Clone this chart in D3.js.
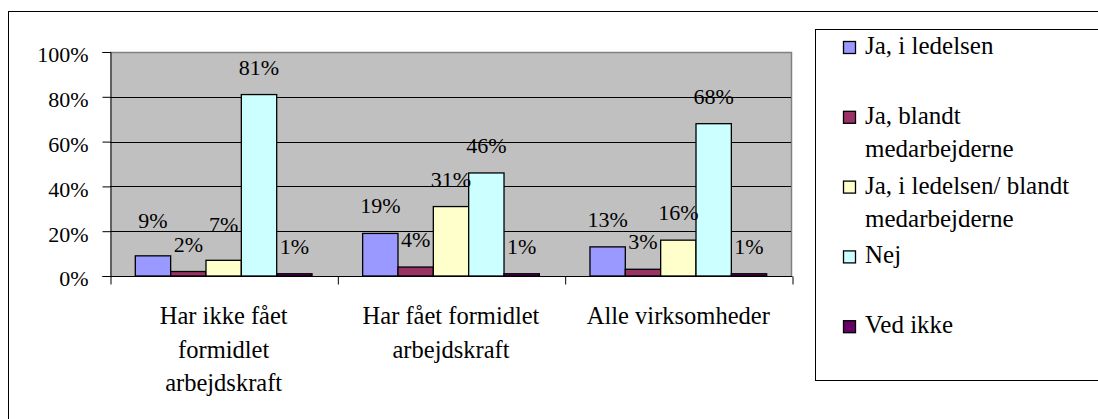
<!DOCTYPE html>
<html>
<head>
<meta charset="utf-8">
<script src="https://cdn.jsdelivr.net/npm/d3@7/dist/d3.min.js"></script>
</head>
<body style="margin:0">
<svg id="chart" width="1098" height="419" style="display:block"></svg>
<script>
// ---- data ----
const categories = [
  ["Har ikke fået", "formidlet", "arbejdskraft"],
  ["Har fået formidlet", "arbejdskraft"],
  ["Alle virksomheder"]
];
const seriesNames = [
  ["Ja, i ledelsen"],
  ["Ja, blandt", "medarbejderne"],
  ["Ja, i ledelsen/ blandt", "medarbejderne"],
  ["Nej"],
  ["Ved ikke"]
];
const jaILedelsen = [0.09, 0.19, 0.13];
const jaBlandt = [0.02, 0.04, 0.03];
const jaBegge = [0.07, 0.31, 0.16];
const nej = [0.81, 0.46, 0.68];
const vedIkke = [0.01, 0.01, 0.01];
const yTicks = [0, 0.2, 0.4, 0.6, 0.8, 1.0];

const seriesValues = [jaILedelsen, jaBlandt, jaBegge, nej, vedIkke];
const colors = ["#9999FF", "#993366", "#FFFFCC", "#CCFFFF", "#660066"];

const FONT = '"Liberation Serif"';

// ---- layout ----
const svg = d3.select("#chart");
const plot = { left: 110, right: 792, top: 52, bottom: 276 };

// outer frame
svg.append("rect")
  .attr("x", 8.5).attr("y", 11.5)
  .attr("width", 1200).attr("height", 500)
  .attr("fill", "#fff").attr("stroke", "#000").attr("stroke-width", 1);

const x0 = d3.scaleBand()
  .domain(d3.range(categories.length))
  .range([plot.left, plot.right])
  .paddingInner(0).paddingOuter(0);

const x1 = d3.scaleBand()
  .domain(d3.range(seriesValues.length))
  .range([0, x0.bandwidth()])
  .paddingInner(0).paddingOuter(0.716);

const y = d3.scaleLinear().domain([0, 1]).range([plot.bottom, plot.top]);

// plot area
svg.append("rect")
  .attr("x", plot.left).attr("y", plot.top)
  .attr("width", plot.right - plot.left).attr("height", plot.bottom - plot.top)
  .attr("fill", "#C0C0C0");
svg.append("path")
  .attr("d", `M${plot.left},${plot.top + 0.5}H${plot.right - 0.5}V${plot.bottom}`)
  .attr("fill", "none").attr("stroke", "#808080").attr("stroke-width", 1.5);

// gridlines
svg.append("g").selectAll("line")
  .data(yTicks.filter(t => t > 0 && t < 1))
  .join("line")
  .attr("x1", plot.left).attr("x2", plot.right - 1)
  .attr("y1", d => Math.round(y(d)) + 0.5).attr("y2", d => Math.round(y(d)) + 0.5)
  .attr("stroke", "#000").attr("stroke-width", 1);

// y axis
const yAxis = d3.axisLeft(y).tickValues(yTicks).tickFormat(d3.format(".0%"))
  .tickSize(8).tickPadding(14);
const gy = svg.append("g").attr("transform", `translate(${plot.left + 0.5},0)`).call(yAxis);
gy.attr("font-family", null).attr("font-size", null);
gy.select(".domain").attr("stroke", "#000");
gy.selectAll(".tick line").attr("stroke", "#000");
gy.selectAll(".tick text")
  .style("font-family", FONT).style("font-size", "22px")
  .attr("fill", "#000").attr("dy", "0.45em");

// x axis
const xAxis = d3.axisBottom(d3.scaleLinear().domain([0, 3]).range([plot.left, plot.right]))
  .tickValues([0, 1, 2, 3]).tickSize(8).tickFormat("");
const gx = svg.append("g").attr("transform", `translate(0.5,${plot.bottom + 0.5})`).call(xAxis);
gx.select(".domain").attr("stroke", "#000").attr("d", `M${plot.left},0H${plot.right}`);
gx.selectAll(".tick line").attr("stroke", "#000");

// bars
const groups = svg.append("g").selectAll("g")
  .data(categories.map((c, i) => i))
  .join("g")
  .attr("transform", i => `translate(${x0(i)},0)`);

groups.selectAll("rect")
  .data(i => seriesValues.map((s, k) => ({ k, v: s[i], g: i })))
  .join("rect")
  .attr("x", d => x1(d.k))
  .attr("y", d => y(d.v))
  .attr("width", x1.bandwidth())
  .attr("height", d => y(0) - y(d.v))
  .attr("fill", d => colors[d.k])
  .attr("stroke", "#000").attr("stroke-width", 1.3);

// value labels
groups.selectAll("text.val")
  .data(i => seriesValues.map((s, k) => ({ k, v: s[i], g: i })))
  .join("text")
  .attr("class", "val")
  .attr("x", d => x1(d.k) + x1.bandwidth() / 2)
  .attr("y", d => y(d.v) - 20 - ((d.g === 0 && (d.k === 0 || d.k === 2)) ? 8 : 0))
  .attr("text-anchor", "middle")
  .style("font-family", FONT).style("font-size", "22px")
  .attr("fill", "#000")
  .text(d => d3.format(".0%")(d.v));

// category labels
const catLabels = svg.append("g").selectAll("text")
  .data(categories.map((c, i) => ({ c, i })))
  .join("text")
  .attr("x", d => x0(d.i) + x0.bandwidth() / 2)
  .attr("y", 324)
  .attr("text-anchor", "middle")
  .style("font-family", FONT).style("font-size", "24.5px")
  .attr("fill", "#000");
catLabels.selectAll("tspan")
  .data(d => d.c.map(line => ({ line, x: x0(d.i) + x0.bandwidth() / 2 })))
  .join("tspan")
  .attr("x", d => d.x)
  .attr("dy", (d, j) => j === 0 ? 0 : 33.7)
  .text(d => d.line);

// legend
svg.append("rect")
  .attr("x", 815.5).attr("y", 29.5)
  .attr("width", 400).attr("height", 351)
  .attr("fill", "#fff").attr("stroke", "#000").attr("stroke-width", 1);

const legend = svg.append("g").selectAll("g")
  .data(seriesNames.map((n, k) => ({ n, k })))
  .join("g")
  .attr("transform", d => `translate(0,${54 + d.k * 69.8})`);
legend.append("rect")
  .attr("x", 843.5).attr("y", -12.5)
  .attr("width", 12).attr("height", 12)
  .attr("fill", d => colors[d.k]).attr("stroke", "#000").attr("stroke-width", 1.3);
const lt = legend.append("text")
  .attr("x", 865).attr("y", 0)
  .style("font-family", FONT).style("font-size", "25px")
  .attr("fill", "#000");
lt.selectAll("tspan")
  .data(d => d.n)
  .join("tspan")
  .attr("x", 865)
  .attr("dy", (d, j) => j === 0 ? 0 : 33)
  .text(d => d);
</script>
</body>
</html>
